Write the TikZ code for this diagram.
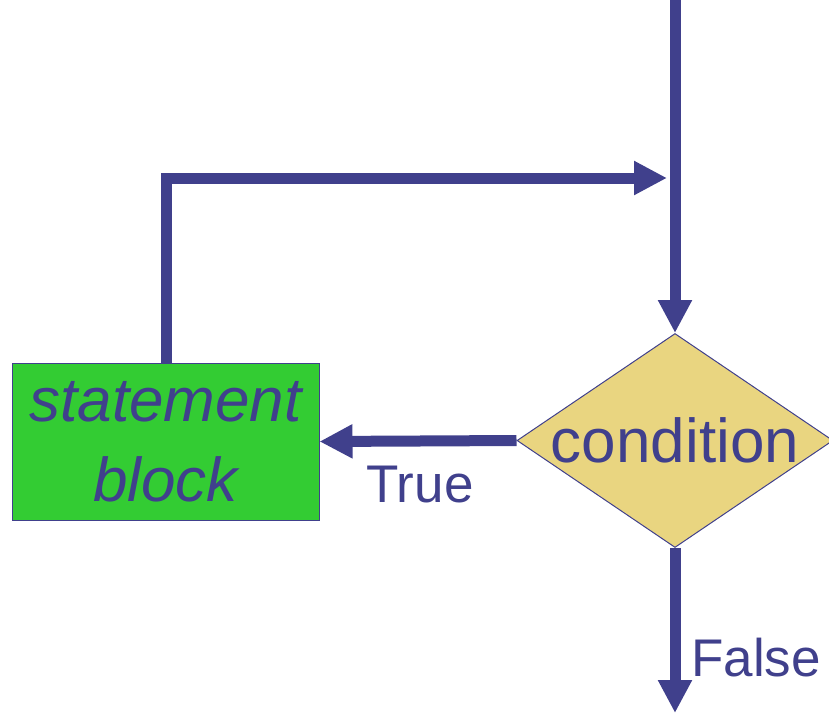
\documentclass[tikz,border=0pt]{standalone}
\usepackage{fontspec}
\setmainfont{Liberation Sans}
\usetikzlibrary{arrows.meta,shapes.geometric}
\definecolor{navy}{RGB}{64,64,140}
\definecolor{boxgreen}{RGB}{51,204,51}
\definecolor{condyellow}{RGB}{233,213,128}
\tikzset{
  flow/.style={draw=navy, line width=11pt, -{Triangle[length=33pt,width=32pt]}},
  stmtbox/.style={rectangle, draw=navy, line width=1pt, fill=boxgreen, inner sep=0pt,
    minimum width=307pt, minimum height=157pt},
  condbox/.style={diamond, draw=navy, line width=1pt, fill=condyellow, inner sep=0pt,
    minimum width=316pt, minimum height=214pt},
  bigtext/.style={text=navy, inner sep=0pt, font=\fontsize{62}{80}\selectfont},
  lbl/.style={text=navy, inner sep=0pt, font=\fontsize{53}{60}\selectfont}
}
\begin{document}
\begin{tikzpicture}[x=1pt,y=-1pt]
\useasboundingbox (0,0) rectangle (829,713);
\node[stmtbox] (sb) at (165.5,441.5) {};
\node[bigtext, align=center, font=\fontsize{62}{80}\selectfont\itshape] (sbt) at (sb) {statement\\block};
\node[condbox] (c) at (675,440.5) {};
\node[bigtext] (ct) at (c) {condition};
\coordinate (top) at (675,0);
\coordinate (lp) at (166,178);
\coordinate (lt) at (667,178);
\coordinate (bot) at (675,713);
\draw[flow] (top) -- (c.north);
\draw[flow, line join=miter] (sb.north -| lp) -- (lp) -- (lt);
\draw[flow] (c.west) -- (sb.east);
\draw[flow] (c.south) -- (bot);
\node[lbl, anchor=base] (tl) at (420,502) {True};
\node[lbl, anchor=base west] (fl) at (691,676) {False};
\end{tikzpicture}
\end{document}
